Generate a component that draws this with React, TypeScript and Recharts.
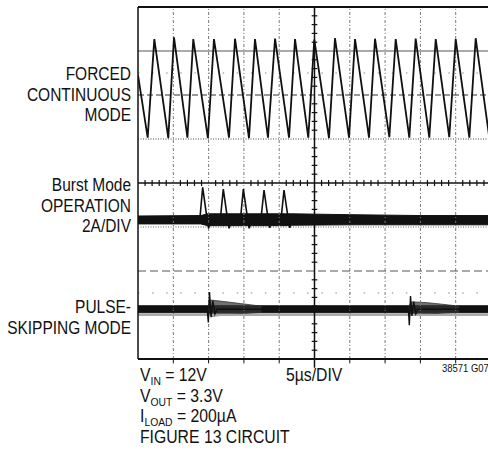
import React from "react";
import { ComposedChart, Line, Area, XAxis, YAxis, ReferenceLine } from "recharts";

// time in µs (5µs/DIV, 10 DIV across), vertical in divisions (8 DIV, ±4)
const divTimes = [5, 10, 15, 20, 30, 35, 40, 45];
const centerTime = 25;

// FORCED CONTINUOUS MODE: valleys and peaks of the inductor current
const forcedTimes = [
  0, 1.37, 2.31, 4.29, 5.1, 7.0, 7.83, 9.9, 10.76, 12.89, 13.74, 15.72, 16.57, 18.41, 19.41,
  21.39, 22.24, 24.12, 24.97, 27.05, 27.9, 29.89, 30.74, 32.72, 33.57, 35.6, 36.5, 38.43, 39.33,
  41.26, 42.17, 44.09, 45.0, 46.93, 47.83, 49.76, 50.67,
];
const forcedValues = [
  2.45, 1.03, 3.27, 1.02, 3.31, 1.03, 3.27, 1.02, 3.27, 1.03, 3.28, 1.02, 3.27, 1.03, 3.28,
  1.03, 3.27, 1.03, 3.26, 1.02, 3.29, 1.03, 3.27, 1.03, 3.28, 1.04, 3.27, 1.03, 3.28,
  1.03, 3.27, 1.04, 3.27, 1.03, 3.29, 1.03, 3.27,
];

// Burst Mode OPERATION: noise band envelope + burst pulses
const burstBandTimes = [0, 8.9, 9.9, 20.9, 21.8, 30, 40, 50.5];
const burstBandLow = [-0.93, -0.93, -0.97, -0.97, -0.96, -0.95, -0.95, -0.95];
const burstBandHigh = [-0.75, -0.74, -0.7, -0.7, -0.7, -0.72, -0.74, -0.74];

const burstTimes = [
  0, 8.75, 9.16, 9.8, 10.0, 10.3, 11.65, 12.08, 12.7, 12.9, 13.2, 14.5, 14.92, 15.55, 15.75,
  16.05, 17.4, 17.85, 18.45, 18.65, 18.95, 20.25, 20.68, 21.3, 21.5, 21.8, 50.5,
];
const burstValues = [
  -0.84, -0.84, -0.1, -0.84, -1.03, -0.84, -0.84, -0.14, -0.84, -1.03, -0.84, -0.84, -0.14, -0.84,
  -1.03, -0.84, -0.84, -0.16, -0.84, -1.02, -0.84, -0.84, -0.16, -0.84, -1.02, -0.84, -0.84,
];

// PULSE-SKIPPING MODE: steady noise band, ringing envelopes after the two skip events
const skipBandTimes = [0, 50.5];
const skipBandLow = [-2.95, -2.95];
const skipBandHigh = [-2.79, -2.79];

const ringTimes = [9.9, 10.3, 12.5, 14.5, 17.5, 38.35, 38.8, 41, 42.8, 45.5];
const ringLow = [-2.93, -3.03, -3.0, -2.97, -2.94, -2.93, -3.0, -2.98, -2.96, -2.94];
const ringHigh = [-2.8, -2.66, -2.7, -2.74, -2.8, -2.8, -2.7, -2.72, -2.75, -2.8];

const skipTimes = [
  0, 9.8, 9.96, 10.13, 10.35, 10.6, 10.9, 11.2, 38.3, 38.43, 38.6, 38.8, 39.05, 39.35, 39.6, 50.5,
];
const skipValues = [
  -2.87, -2.87, -3.17, -2.48, -3.05, -2.68, -2.98, -2.87, -2.87, -3.23, -2.57, -3.02, -2.7, -2.97,
  -2.87, -2.87,
];

const forcedData = forcedTimes.map((t, i) => ({ t, v: forcedValues[i] }));
const burstData = burstTimes.map((t, i) => ({ t, v: burstValues[i] }));
const skipData = skipTimes.map((t, i) => ({ t, v: skipValues[i] }));
const burstBand = burstBandTimes.map((t, i) => ({ t, r: [burstBandLow[i], burstBandHigh[i]] }));
const skipBand = skipBandTimes.map((t, i) => ({ t, r: [skipBandLow[i], skipBandHigh[i]] }));
const ringBand1 = ringTimes.slice(0, 5).map((t, i) => ({ t, r: [ringLow[i], ringHigh[i]] }));
const ringBand2 = ringTimes.slice(5).map((t, i) => ({ t, r: [ringLow[i + 5], ringHigh[i + 5]] }));

// minor tick positions on the centre cross (5 per division)
const minorX = Array.from({ length: 49 }, (_, i) => i + 1).filter((t) => t % 5 !== 0);
const minorY = Array.from({ length: 39 }, (_, i) => Math.round((-3.8 + i * 0.2) * 10) / 10).filter(
  (v) => Math.abs(v % 1) > 0.01
);

const FONT = '"Liberation Sans", Arial, sans-serif';
const SQUEEZE = 0.86;

const sub = { fontSize: 11.5, verticalAlign: -4 } as React.CSSProperties;

const leftBlock = (top: number): React.CSSProperties => ({
  position: "absolute",
  left: -89,
  top,
  width: 220,
  textAlign: "right",
  fontSize: 18,
  lineHeight: "20.5px",
  whiteSpace: "nowrap",
  transform: `scaleX(${SQUEEZE})`,
  transformOrigin: "right top",
});

const noteLine = (left: number, top: number, size = 17.5, squeeze = 0.9): React.CSSProperties => ({
  position: "absolute",
  left,
  top,
  fontSize: size,
  lineHeight: size + "px",
  whiteSpace: "nowrap",
  transform: `scaleX(${squeeze})`,
  transformOrigin: "left top",
});

export default function App() {
  return (
    <div
      style={{
        position: "absolute",
        left: 0,
        top: 0,
        width: 488,
        height: 451,
        overflow: "hidden",
        background: "#fff",
        fontFamily: FONT,
        color: "#111",
      }}
    >
      <div style={{ position: "absolute", left: 0, top: 0 }}>
        <ComposedChart width={500} height={451} margin={{ top: 7, right: 9, bottom: 92, left: 138 }}>
          <XAxis dataKey="t" type="number" domain={[0, 50]} allowDataOverflow hide />
          <YAxis type="number" domain={[-4, 4]} allowDataOverflow hide />

          {divTimes.map((t) => (
            <ReferenceLine key={"vx" + t} x={t} stroke="#777" strokeDasharray="3 2 1 2" />
          ))}
          <ReferenceLine y={3} stroke="#aaa" strokeWidth={2} />
          <ReferenceLine y={-3} stroke="#aaa" strokeWidth={2} />
          <ReferenceLine y={2} stroke="#333" strokeDasharray="6 3" />
          <ReferenceLine y={-2} stroke="#555" strokeDasharray="8 4" />
          <ReferenceLine y={1} stroke="#444" strokeDasharray="1 1.5" />
          <ReferenceLine y={-1} stroke="#666" strokeDasharray="1 1.5" />
          <ReferenceLine y={2.5} stroke="#888" strokeDasharray="1.5 12.6" />
          <ReferenceLine y={-2.5} stroke="#888" strokeDasharray="1.5 12.6" />

          <ReferenceLine y={0} stroke="#111" strokeWidth={1.5} />
          <ReferenceLine
            segment={[{ x: centerTime, y: 4 }, { x: centerTime, y: -4.2 }]}
            stroke="#111"
            strokeWidth={1.5}
            ifOverflow="visible"
          />
          {minorX.map((t) => (
            <ReferenceLine
              key={"mx" + t}
              segment={[{ x: t, y: -0.07 }, { x: t, y: 0.07 }]}
              stroke="#111"
              strokeWidth={1.2}
            />
          ))}
          {minorY.map((v) => (
            <ReferenceLine
              key={"my" + v}
              segment={[{ x: centerTime - 0.4, y: v }, { x: centerTime + 0.4, y: v }]}
              stroke="#111"
              strokeWidth={1.2}
            />
          ))}
          {divTimes.map((t) => (
            <ReferenceLine
              key={"bt" + t}
              segment={[{ x: t, y: -4 }, { x: t, y: -4.1 }]}
              stroke="#111"
              ifOverflow="visible"
            />
          ))}

          <ReferenceLine y={4} stroke="#111" strokeWidth={2} />
          <ReferenceLine y={-4} stroke="#111" strokeWidth={2} />
          <ReferenceLine x={0} stroke="#111" strokeWidth={1.5} />

          <Area data={burstBand} dataKey="r" type="linear" stroke="#111" strokeWidth={1} fill="#111" fillOpacity={1} isAnimationActive={false} />
          <Area data={skipBand} dataKey="r" type="linear" stroke="#111" strokeWidth={1} fill="#111" fillOpacity={1} isAnimationActive={false} />
          <Area data={ringBand1} dataKey="r" type="linear" stroke="#333" strokeWidth={0.8} fill="#333" fillOpacity={0.7} isAnimationActive={false} />
          <Area data={ringBand2} dataKey="r" type="linear" stroke="#333" strokeWidth={0.8} fill="#333" fillOpacity={0.7} isAnimationActive={false} />
          <Line data={forcedData} dataKey="v" type="linear" stroke="#111" strokeWidth={1.8} dot={false} isAnimationActive={false} />
          <Line data={burstData} dataKey="v" type="linear" stroke="#111" strokeWidth={1.6} dot={false} isAnimationActive={false} />
          <Line data={skipData} dataKey="v" type="linear" stroke="#111" strokeWidth={1.4} dot={false} isAnimationActive={false} />
        </ComposedChart>
      </div>

      <div style={leftBlock(64)}>
        FORCED
        <br />
        CONTINUOUS
        <br />
        MODE
      </div>
      <div style={leftBlock(175)}>
        Burst Mode
        <br />
        OPERATION
        <br />
        2A/DIV
      </div>
      <div style={leftBlock(297)}>
        PULSE-
        <br />
        SKIPPING MODE
      </div>

      <div style={noteLine(140, 367)}>
        V<span style={sub}>IN</span> = 12V
      </div>
      <div style={noteLine(286, 367)}>5µs/DIV</div>
      <div style={noteLine(442, 363, 11, 0.86)}>38571 G07</div>
      <div style={noteLine(140, 388)}>
        V<span style={sub}>OUT</span> = 3.3V
      </div>
      <div style={noteLine(140, 408)}>
        I<span style={sub}>LOAD</span> = 200µA
      </div>
      <div style={noteLine(140, 429)}>FIGURE 13 CIRCUIT</div>
    </div>
  );
}
